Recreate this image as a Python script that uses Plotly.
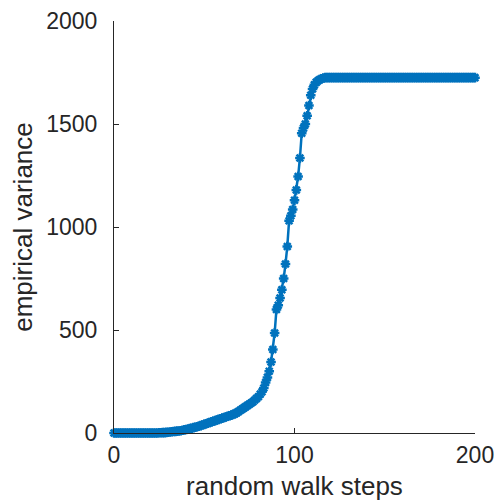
import plotly.graph_objects as go

steps = list(range(0, 201))

variance_0_83 = [
    0, 0, 0, 0, 0, 0, 0, 0, 0, 0,
    0, 0, 0, 0, 0, 0, 0, 0, 0, 0,
    0, 0, 0, 0, 0, 1, 1, 2, 2, 3,
    4, 5, 6, 7, 8, 9, 10, 11, 13, 15,
    17, 19, 21, 23, 26, 28, 30, 33, 36, 39,
    42, 45, 48, 51, 54, 57, 60, 63, 66, 69,
    72, 75, 78, 81, 84, 87, 90, 94, 98, 104,
    110, 116, 122, 128, 134, 140, 146, 152, 160, 168,
    176, 188, 200, 218,
]
variance_84_118 = [
    245, 270, 300, 345, 405, 485, 600, 620, 655, 695,
    750, 820, 905, 1030, 1055, 1085, 1130, 1180, 1245, 1335,
    1455, 1480, 1500, 1540, 1590, 1640, 1670, 1690, 1702, 1710,
    1716, 1720, 1723, 1725, 1725,
]
plateau_value = 1725
variance = variance_0_83 + variance_84_118 + [plateau_value] * (201 - 84 - len(variance_84_118))

x_ticks = [0, 100, 200]
y_ticks = [0, 500, 1000, 1500, 2000]

fig = go.Figure()
fig.add_trace(go.Scatter(
    x=steps, y=variance, mode="lines+markers",
    line=dict(color="#0072BD", width=2.5),
    marker=dict(symbol="asterisk-open", size=8, color="#0072BD",
                line=dict(color="#0072BD", width=2.5)),
    showlegend=False, cliponaxis=False,
))

axis_common = dict(
    showline=True, linecolor="#262626", linewidth=1,
    ticks="inside", ticklen=5, tickcolor="#262626", tickwidth=1,
    showgrid=False, zeroline=False, automargin=False,
    ticklabeloverflow="allow",
    tickfont=dict(family="Liberation Sans, Arial", size=23, color="#262626"),
    mirror=False,
)

fig.update_layout(
    width=494, height=504,
    margin=dict(l=114, r=19, t=21, b=71),
    paper_bgcolor="white", plot_bgcolor="white",
    xaxis=dict(range=[0, 200], tickvals=x_ticks, **axis_common,
               ticklabelstandoff=1,
               title=dict(text="random walk steps", standoff=10,
                          font=dict(family="Liberation Sans, Arial", size=26, color="#262626"))),
    yaxis=dict(range=[0, 2000], tickvals=y_ticks, **axis_common,
               ticklabelstandoff=11,
               title=dict(text="empirical variance", standoff=6,
                          font=dict(family="Liberation Sans, Arial", size=26, color="#262626"))),
)

fig.write_html("out.html", config={"displayModeBar": False},
               post_script="document.body.style.margin='0';document.body.style.overflow='hidden';")
